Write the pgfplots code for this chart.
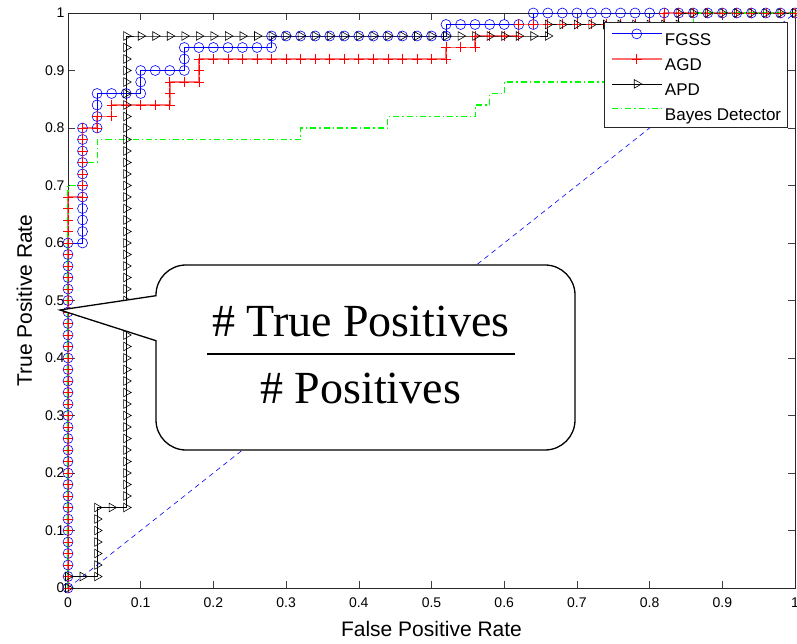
\documentclass[border=0pt]{standalone}
\usepackage{fontspec}
\setmainfont{Liberation Sans}
\newfontfamily\timesfont{Liberation Serif}
\usepackage{pgfplots}
\pgfplotsset{compat=1.18}
\definecolor{agdline}{RGB}{255,110,110}
\definecolor{bayesgreen}{RGB}{0,255,0}
\begin{document}
\begin{tikzpicture}
\begin{axis}[
  scale only axis, width=727pt, height=575pt,
  xmin=0, xmax=1, ymin=0, ymax=1,
  xtick={0,0.1,0.2,0.3,0.4,0.5,0.6,0.7,0.8,0.9,1},
  ytick={0,0.1,0.2,0.3,0.4,0.5,0.6,0.7,0.8,0.9,1},
  tick align=inside, major tick length=7pt,
  tick style={black!75, line width=0.6pt},
  axis line style={black!85, line width=0.7pt},
  /pgf/number format/assume math mode=true,
  ticklabel style={font=\fontsize{14}{14}\selectfont},
  xticklabel style={yshift=-6pt},
  xlabel={False Positive Rate}, ylabel={True Positive Rate},
  label style={font=\fontsize{21}{21}\selectfont},
  xlabel style={at={([yshift=-48pt]axis description cs:0.5,0)}, anchor=base},
  ylabel style={at={([xshift=-36pt]axis description cs:0,0.5)}, anchor=base, rotate=0},
  clip=false,
  legend cell align=left,
  legend style={at={(rel axis cs:0.9904,0.9843)}, anchor=north east,
    draw=black!85, line width=0.7pt, fill=white,
    font=\fontsize{17}{17}\selectfont,
    inner xsep=4pt, inner ysep=3pt, row sep=1pt,
    nodes={inner xsep=2.5pt, inner ysep=2.5pt, text height=18pt, text depth=1pt}},
  legend image code/.code={\path (0pt,0pt); \draw[mark repeat=2,mark phase=2] plot coordinates {(3pt,3.5pt) (28pt,3.5pt) (53pt,3.5pt)};},
]
% FGSS
\addplot[blue, line width=0.8pt, mark=o, mark size=5pt, mark options={solid, line width=0.6pt}] coordinates {
(0,0)(0,0.02)(0,0.04)(0,0.06)(0,0.08)(0,0.1)(0,0.12)(0,0.14)(0,0.16)(0,0.18)(0,0.2)(0,0.22)(0,0.24)(0,0.26)(0,0.28)(0,0.3)(0,0.32)(0,0.34)(0,0.36)(0,0.38)(0,0.4)(0,0.42)(0,0.44)(0,0.46)(0,0.48)(0,0.5)(0,0.52)(0,0.54)(0,0.56)(0,0.58)(0,0.6)
(0.02,0.6)(0.02,0.62)(0.02,0.64)(0.02,0.66)(0.02,0.68)(0.02,0.7)(0.02,0.72)(0.02,0.74)(0.02,0.76)(0.02,0.78)(0.02,0.8)
(0.04,0.8)(0.04,0.82)(0.04,0.84)(0.04,0.86)
(0.06,0.86)(0.08,0.86)(0.1,0.86)(0.1,0.88)(0.1,0.9)
(0.12,0.9)(0.14,0.9)(0.16,0.9)(0.16,0.92)(0.16,0.94)
(0.18,0.94)(0.2,0.94)(0.22,0.94)(0.24,0.94)(0.26,0.94)(0.28,0.94)(0.28,0.96)
(0.3,0.96)(0.32,0.96)(0.34,0.96)(0.36,0.96)(0.38,0.96)(0.4,0.96)(0.42,0.96)(0.44,0.96)(0.46,0.96)(0.48,0.96)(0.5,0.96)(0.52,0.96)(0.52,0.98)
(0.54,0.98)(0.56,0.98)(0.58,0.98)(0.6,0.98)(0.62,0.98)(0.64,0.98)(0.64,1)
(0.66,1)(0.68,1)(0.7,1)(0.72,1)(0.74,1)(0.76,1)(0.78,1)(0.8,1)(0.82,1)(0.84,1)(0.86,1)(0.88,1)(0.9,1)(0.92,1)(0.94,1)(0.96,1)(0.98,1)(1,1)
};
\addlegendentry{FGSS}
% AGD
\addplot[agdline, line width=1.5pt, mark=+, mark size=5pt, mark options={solid, red, line width=0.7pt}] coordinates {
(0,0)(0,0.02)(0,0.04)(0,0.06)(0,0.08)(0,0.1)(0,0.12)(0,0.14)(0,0.16)(0,0.18)(0,0.2)(0,0.22)(0,0.24)(0,0.26)(0,0.28)(0,0.3)(0,0.32)(0,0.34)(0,0.36)(0,0.38)(0,0.4)(0,0.42)(0,0.44)(0,0.46)(0,0.48)(0,0.5)(0,0.52)(0,0.54)(0,0.56)(0,0.58)(0,0.6)(0,0.62)(0,0.64)(0,0.66)(0,0.68)
(0.02,0.68)(0.02,0.7)(0.02,0.72)(0.02,0.74)(0.02,0.76)(0.02,0.78)(0.02,0.8)
(0.04,0.8)(0.04,0.82)(0.06,0.82)(0.06,0.84)
(0.08,0.84)(0.1,0.84)(0.12,0.84)(0.14,0.84)(0.14,0.86)(0.14,0.88)
(0.16,0.88)(0.18,0.88)(0.18,0.9)(0.18,0.92)
(0.2,0.92)(0.22,0.92)(0.24,0.92)(0.26,0.92)(0.28,0.92)(0.3,0.92)(0.32,0.92)(0.34,0.92)(0.36,0.92)(0.38,0.92)(0.4,0.92)(0.42,0.92)(0.44,0.92)(0.46,0.92)(0.48,0.92)(0.5,0.92)(0.52,0.92)(0.52,0.94)
(0.54,0.94)(0.56,0.94)(0.56,0.96)(0.58,0.96)(0.6,0.96)(0.62,0.96)(0.62,0.98)
(0.64,0.98)(0.66,0.98)(0.68,0.98)(0.7,0.98)(0.72,0.98)(0.74,0.98)(0.76,0.98)(0.78,0.98)(0.8,0.98)(0.82,0.98)(0.82,1)
(0.84,1)(0.86,1)(0.88,1)(0.9,1)(0.92,1)(0.94,1)(0.96,1)(0.98,1)(1,1)
};
\addlegendentry{AGD}
% APD
\addplot[black, line width=0.7pt, mark=triangle, mark size=5pt, mark options={solid, rotate=-90, line width=0.6pt}] coordinates {
(0,0)(0,0.02)(0.02,0.02)(0.04,0.02)(0.04,0.04)(0.04,0.06)(0.04,0.08)(0.04,0.1)(0.04,0.12)(0.04,0.14)
(0.06,0.14)(0.08,0.14)
(0.08,0.16)(0.08,0.18)(0.08,0.2)(0.08,0.22)(0.08,0.24)(0.08,0.26)(0.08,0.28)(0.08,0.3)(0.08,0.32)(0.08,0.34)(0.08,0.36)(0.08,0.38)(0.08,0.4)(0.08,0.42)(0.08,0.44)(0.08,0.46)(0.08,0.48)(0.08,0.5)(0.08,0.52)(0.08,0.54)(0.08,0.56)(0.08,0.58)(0.08,0.6)(0.08,0.62)(0.08,0.64)(0.08,0.66)(0.08,0.68)(0.08,0.7)(0.08,0.72)(0.08,0.74)(0.08,0.76)(0.08,0.78)(0.08,0.8)(0.08,0.82)(0.08,0.84)(0.08,0.86)(0.08,0.88)(0.08,0.9)(0.08,0.92)(0.08,0.94)(0.08,0.96)
(0.1,0.96)(0.12,0.96)(0.14,0.96)(0.16,0.96)(0.18,0.96)(0.2,0.96)(0.22,0.96)(0.24,0.96)(0.26,0.96)(0.28,0.96)(0.3,0.96)(0.32,0.96)(0.34,0.96)(0.36,0.96)(0.38,0.96)(0.4,0.96)(0.42,0.96)(0.44,0.96)(0.46,0.96)(0.48,0.96)(0.5,0.96)(0.52,0.96)(0.54,0.96)(0.56,0.96)(0.58,0.96)(0.6,0.96)(0.62,0.96)(0.64,0.96)(0.66,0.96)(0.66,0.98)
(0.68,0.98)(0.7,0.98)(0.72,0.98)(0.74,0.98)(0.76,0.98)(0.78,0.98)(0.8,0.98)(0.82,0.98)(0.84,0.98)(0.84,1)
(0.86,1)(0.88,1)(0.9,1)(0.92,1)(0.94,1)(0.96,1)(0.98,1)(1,1)
};
\addlegendentry{APD}
% Bayes Detector
\addplot[bayesgreen, line width=1.1pt, dash pattern=on 6pt off 3pt on 1.5pt off 3pt] coordinates {
(0,0)(0,0.7)(0.02,0.7)(0.02,0.74)(0.04,0.74)(0.04,0.78)(0.32,0.78)(0.32,0.8)(0.44,0.8)(0.44,0.82)(0.56,0.82)(0.56,0.84)(0.58,0.84)(0.58,0.86)(0.6,0.86)(0.6,0.88)(0.86,0.88)(0.86,1)(1,1)
};
\addlegendentry{Bayes Detector}
% chance line
\addplot[blue, line width=0.6pt, dash pattern=on 5pt off 4pt, forget plot] coordinates {(0,0)(1,1)};
\end{axis}
% callout
\draw[line width=1.3pt, fill=white] (-8pt,278pt) -- (88pt,292.3pt) [rounded corners=30pt] -- (88pt,323pt) -- (507pt,323pt) -- (507pt,138pt) -- (88pt,138pt) [sharp corners] -- (88pt,247.3pt) -- cycle;
\node[font=\timesfont\fontsize{46}{46}\selectfont, anchor=base, inner sep=0pt] at (292.8pt,251.3pt) {\# True Positives};
\draw[line width=1.3pt] (138.7pt,234pt) -- (447pt,234pt);
\node[font=\timesfont\fontsize{46}{46}\selectfont, anchor=base, inner sep=0pt] at (292.8pt,185pt) {\# Positives};
\pgfresetboundingbox
\path[use as bounding box] (-68pt,-55pt) rectangle (729pt,588pt);
\end{tikzpicture}
\end{document}
